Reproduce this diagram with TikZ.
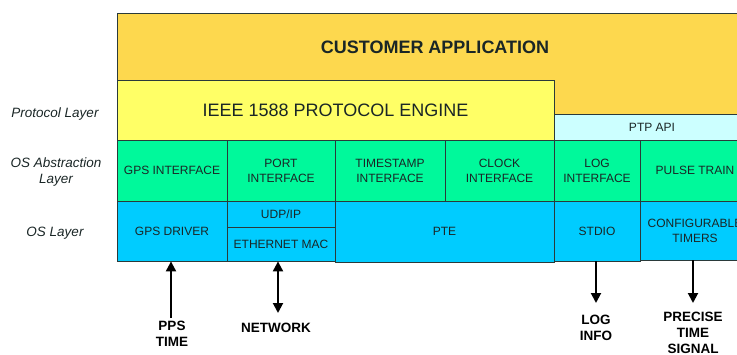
\documentclass[tikz,border=0pt]{standalone}
\usepackage{fontspec}
\setmainfont{Liberation Sans}
\usetikzlibrary{arrows.meta}
\definecolor{custc}{HTML}{FDD84E}
\definecolor{ieeec}{HTML}{FFFF66}
\definecolor{ptpc}{HTML}{CCFFFF}
\definecolor{greenc}{HTML}{00F99B}
\definecolor{bluec}{HTML}{00CCFF}
\definecolor{bordc}{HTML}{2A3A3A}
\definecolor{textc}{HTML}{1A2626}
\begin{document}
\begin{tikzpicture}[x=1pt,y=-1pt,
  box/.style={draw=bordc, line width=0.8pt, inner sep=0pt, align=center, text=textc,
    font=\fontsize{12}{15}\selectfont},
  layerlbl/.style={align=center, inner sep=0pt, text=textc, font=\fontsize{13.5}{16}\selectfont\itshape},
  botlbl/.style={align=center, inner sep=0pt, font=\fontsize{13.5}{16}\selectfont\bfseries},
  arr/.style={line width=2pt, -{Triangle[length=10pt,width=10pt]}},
  darr/.style={line width=2pt, {Triangle[length=10pt,width=10pt]}-{Triangle[length=10pt,width=10pt]}}]
\useasboundingbox (0,0) rectangle (737,354);
\clip (0,0) rectangle (737,354);
% top layers
\node[box, fill=custc, minimum width=633, minimum height=101] (cust) at (433.5,63.5) {};
\node[inner sep=0pt, font=\fontsize{18}{20}\selectfont\bfseries, text=textc] (custlbl) at (435,47) {CUSTOMER APPLICATION};
\node[box, fill=ieeec, minimum width=437, minimum height=60, font=\fontsize{18}{20}\selectfont] (ieee) at (335.5,110) {IEEE 1588 PROTOCOL ENGINE};
\node[box, fill=ptpc, minimum width=196, minimum height=26] (ptp) at (652,127) {PTP API};
% OS abstraction layer
\node[box, fill=greenc, minimum width=110, minimum height=61] (gpsif) at (172,170.5) {GPS INTERFACE};
\node[box, fill=greenc, minimum width=108, minimum height=61] (portif) at (281,170.5) {PORT\\INTERFACE};
\node[box, fill=greenc, minimum width=110, minimum height=61] (tsif) at (390,170.5) {TIMESTAMP\\INTERFACE};
\node[box, fill=greenc, minimum width=109, minimum height=61] (clkif) at (499.5,170.5) {CLOCK\\INTERFACE};
\node[box, fill=greenc, minimum width=86, minimum height=61] (logif) at (597,170.5) {LOG\\INTERFACE};
\node[box, fill=greenc, minimum width=110, minimum height=61] (pulse) at (695,170.5) {PULSE TRAIN};
% OS layer
\node[box, fill=bluec, minimum width=110, minimum height=60] (gpsdrv) at (172,231) {GPS DRIVER};
\node[box, fill=bluec, minimum width=108, minimum height=26] (udp) at (281,214) {UDP/IP};
\node[box, fill=bluec, minimum width=108, minimum height=34] (eth) at (281,244) {ETHERNET MAC};
\node[box, fill=bluec, minimum width=219, minimum height=61] (pte) at (444.5,231.5) {PTE};
\node[box, fill=bluec, minimum width=86, minimum height=60] (stdio) at (597,231) {STDIO};
\node[box, fill=bluec, minimum width=110, minimum height=59] (timers) at (695,230.5) {CONFIGURABLE\\TIMERS};
% layer labels
\node[layerlbl] (lprot) at (55,114) {Protocol Layer};
\node[layerlbl] (losabs) at (56,172) {OS Abstraction\\Layer};
\node[layerlbl] (los) at (55,233) {OS Layer};
% bottom labels
\node[botlbl] (pps) at (172,334) {PPS\\TIME};
\node[botlbl] (net) at (276,328) {NETWORK};
\node[botlbl] (log) at (596,327.5) {LOG\\INFO};
\node[botlbl] (prec) at (693,333) {PRECISE\\TIME\\SIGNAL};
% arrows
\coordinate (ppsend) at (171,318);
\coordinate (netend) at (278,313);
\coordinate (logend) at (596,303);
\coordinate (precend) at (693,303);
\draw[arr] (ppsend) -- (ppsend |- gpsdrv.south);
\draw[darr] (netend |- eth.south) -- (netend);
\draw[arr] (logend |- stdio.south) -- (logend);
\draw[arr] (precend |- timers.south) -- (precend);
\end{tikzpicture}
\end{document}
